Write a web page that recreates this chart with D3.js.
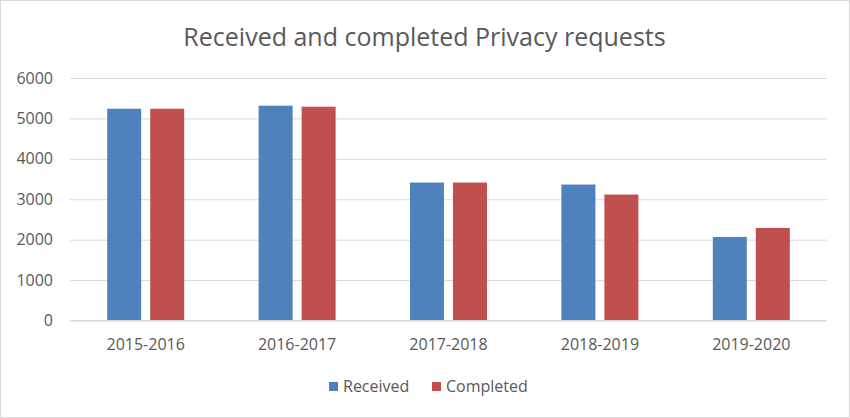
<!DOCTYPE html>
<html><head><meta charset="utf-8">
<script src="https://cdn.jsdelivr.net/npm/d3@7"></script>
<style>body{margin:0;background:#fff}svg{display:block}</style>
</head><body>
<script>
const categories = ["2015-2016","2016-2017","2017-2018","2018-2019","2019-2020"];
const seriesNames = ["Received","Completed"];
const received = [5240, 5315, 3413, 3364, 2067];
const completed = [5240, 5290, 3413, 3116, 2290];
const yTicks = [0,1000,2000,3000,4000,5000,6000];
const colors = ["#4F81BD","#C0504D"];
const title = "Received and completed Privacy requests";

const W=850,H=418;
const font="'Open Sans', sans-serif";
const svg=d3.select("body").append("svg").attr("width",W).attr("height",H);
svg.append("rect").attr("x",0.5).attr("y",0.5).attr("width",W-1).attr("height",H-1)
  .attr("fill","#fff").attr("stroke","#d9d9d9");

const x0=d3.scaleBand().domain(categories).range([70,827]).padding(0);
const bw=x0.bandwidth();
const x1=d3.scaleBand().domain(seriesNames).range([bw*0.2457,bw*0.7543]).paddingInner(0.209);
const y=d3.scaleLinear().domain([0,6000]).range([320.5,78]);

// grid
const yAxis=d3.axisLeft(y).tickValues(yTicks).tickFormat(d3.format("d")).tickSize(-(827-70)).tickPadding(17);
const gy=svg.append("g").attr("transform","translate(70,0)").call(yAxis);
gy.select(".domain").remove();
gy.selectAll(".tick line").attr("stroke","#d9d9d9").attr("stroke-width",1);
gy.selectAll(".tick text").attr("fill","#595959").style("font-family",font).style("font-size","16px");

const data=categories.map((c,i)=>({cat:c,vals:[received[i],completed[i]]}));
const g=svg.append("g");
g.selectAll("g.cat").data(data).join("g").attr("class","cat")
 .attr("transform",d=>`translate(${x0(d.cat)},0)`)
 .selectAll("rect").data(d=>d.vals.map((v,j)=>({s:seriesNames[j],v,j})))
 .join("rect")
 .attr("x",d=>x1(d.s)).attr("width",x1.bandwidth())
 .attr("y",d=>y(d.v)).attr("height",d=>y(0)-y(d.v))
 .attr("fill",d=>colors[d.j]);

// baseline
svg.append("line").attr("x1",70).attr("x2",827).attr("y1",320.5).attr("y2",320.5).attr("stroke","#d9d9d9");

const xAxis=d3.axisBottom(x0).tickSize(0).tickPadding(18);
const gx=svg.append("g").attr("transform","translate(0,320.5)").call(xAxis);
gx.select(".domain").remove();
gx.selectAll(".tick text").attr("fill","#595959").style("font-family",font).style("font-size","16px");

svg.append("text").attr("x",424.5).attr("y",46).attr("text-anchor","middle")
 .attr("fill","#595959").style("font-family",font).style("font-size","25px").text(title);

// legend
const leg=[{n:"Received",x:329,c:colors[0]},{n:"Completed",x:432,c:colors[1]}];
const lg=svg.append("g");
leg.forEach(l=>{
  lg.append("rect").attr("x",l.x).attr("y",382).attr("width",9).attr("height",9).attr("fill",l.c);
  lg.append("text").attr("x",l.x+14).attr("y",392).attr("fill","#595959")
    .style("font-family",font).style("font-size","16px").text(l.n);
});
</script>
</body></html>
